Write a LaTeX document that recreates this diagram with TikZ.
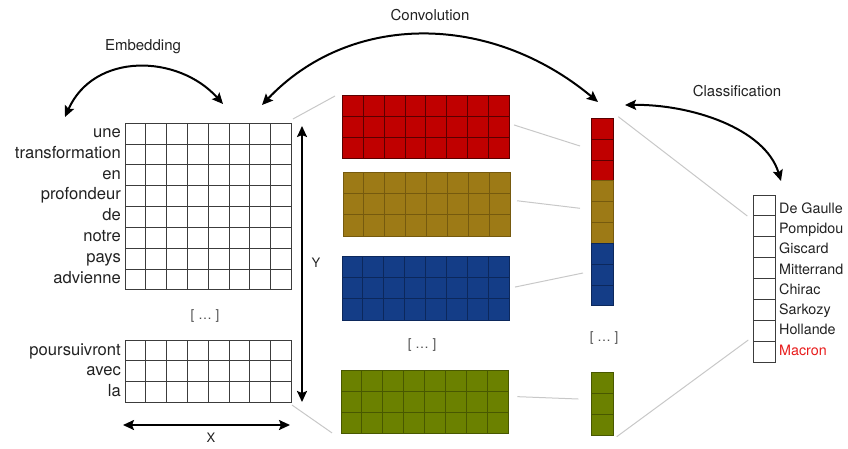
\documentclass[tikz,border=0pt]{standalone}
\usepackage{fontspec}
\setmainfont{TeX Gyre Heros}
\usetikzlibrary{arrows.meta}
\definecolor{cred}{RGB}{192,0,0}
\definecolor{credl}{RGB}{90,0,0}
\definecolor{cgold}{RGB}{157,122,22}
\definecolor{cgoldl}{RGB}{118,90,14}
\definecolor{cblue}{RGB}{20,61,135}
\definecolor{cbluel}{RGB}{12,40,92}
\definecolor{cgreen}{RGB}{107,129,0}
\definecolor{cgreenl}{RGB}{72,88,0}
\definecolor{gridl}{RGB}{60,60,60}
\definecolor{txt}{RGB}{34,34,34}
\definecolor{connl}{RGB}{200,200,200}
\definecolor{macred}{RGB}{232,28,28}
% #1 name, #2 x, #3 y, #4 cols, #5 rows, #6 cell w, #7 cell h, #8 fill, #9 line colour
\newcommand\blk[9]{%
  \begin{scope}[shift={(#2,#3)}]
    \node[anchor=north west, minimum width={#4*#6pt}, minimum height={#5*#7pt},
          inner sep=0pt, outer sep=0pt, fill=#8, draw=#9, line width=1pt] (#1) at (0,0) {};
    \pgfmathtruncatemacro\blkc{#4-1}%
    \pgfmathtruncatemacro\blkr{#5-1}%
    \ifnum\blkc>0 \foreach \i in {1,...,\blkc}{\draw[#9, line width=1pt] (\i*#6,0) -- (\i*#6,#5*#7);}\fi
    \ifnum\blkr>0 \foreach \j in {1,...,\blkr}{\draw[#9, line width=1pt] (0,\j*#7) -- (#4*#6,\j*#7);}\fi
  \end{scope}}
\tikzset{
  wordL/.style={anchor=base east, inner sep=0pt, text=txt, font=\fontsize{16.6}{18}\selectfont},
  wordR/.style={anchor=base west, inner sep=0pt, text=txt, font=\fontsize{14.3}{16}\selectfont},
  toplabel/.style={inner sep=0pt, text=txt, font=\fontsize{15}{17}\selectfont},
  dots/.style={inner sep=0pt, text=txt!80, font=\fontsize{13.5}{15}\selectfont},
  axlabel/.style={inner sep=0pt, text=txt, font=\fontsize{13}{15}\selectfont},
  bigarrow/.style={line width=2pt, {Stealth[length=11pt,width=10pt,inset=2pt]}-{Stealth[length=11pt,width=10pt,inset=2pt]}},
  conn/.style={connl, line width=1pt},
}
\begin{document}
\begin{tikzpicture}[x=1pt,y=-1pt]
\useasboundingbox (0,0) rectangle (848,448);
% embedding grids
\blk{emb}{125}{123.3}{8}{8}{20.83}{20.83}{white}{gridl}
\blk{embb}{125}{340}{8}{3}{20.83}{20.83}{white}{gridl}
% convolution blocks
\blk{cr}{342.3}{95}{8}{3}{20.9}{21.1}{cred}{credl}
\blk{cg}{343}{172.7}{8}{3}{20.9}{21.1}{cgold}{cgoldl}
\blk{cb}{342}{256.7}{8}{3}{20.9}{21.1}{cblue}{cbluel}
\blk{cgr}{341}{370}{8}{3}{20.9}{21.3}{cgreen}{cgreenl}
% pooled column
\blk{colr}{591.7}{118.3}{1}{3}{21.6}{20.86}{cred}{credl}
\blk{colo}{591.7}{180.9}{1}{3}{21.6}{20.86}{cgold}{cgoldl}
\blk{colb}{591.7}{243.4}{1}{3}{21.6}{20.86}{cblue}{cbluel}
\blk{colg}{591.7}{372}{1}{3}{21.6}{21}{cgreen}{cgreenl}
% classification
\blk{cls}{753.3}{195}{1}{8}{21.7}{20.9}{white}{gridl}
% words
\foreach \w [count=\k] in {une,transformation,en,profondeur,de,notre,pays,advienne}
  \node[wordL] (w\k) at (121,{137.5+20.8*(\k-1)}) {\w};
\foreach \w [count=\k] in {poursuivront,avec,la}
  \node[wordL] (v\k) at (121,{355+20.6*(\k-1)}) {\w};
\foreach \w [count=\k] in {De Gaulle,Pompidou,Giscard,Mitterrand,Chirac,Sarkozy,Hollande}
  \node[wordR] (p\k) at (779,{213.3+20.25*(\k-1)}) {\w};
\node[wordR, text=macred] (p8) at (779,355) {Macron};
% dots
\node[dots] (d1) at (205,316) {[ … ]};
\node[dots] (d2) at (422,345) {[ … ]};
\node[dots] (d3) at (604,338) {[ … ]};
% top labels
\node[toplabel] (lemb) at (143,46.5) {Embedding};
\node[toplabel] (lconv) at (430,15.5) {Convolution};
\node[toplabel] (lcls) at (737,91.5) {Classification};
% axis labels
\node[axlabel] (lx) at (211,438) {X};
\node[axlabel] (ly) at (316,263) {Y};
% axis arrows
\coordinate (xa) at (123,425); \coordinate (xb) at (290,425);
\coordinate (ya) at (302,126); \coordinate (yb) at (302,402);
\draw[bigarrow] (xa) -- (xb);
\draw[bigarrow] (ya) -- (yb);
% curved arrows
\coordinate (e1) at (65,117); \coordinate (e2) at (223,104);
\draw[bigarrow] (e1) .. controls (94,52) and (178,54) .. (e2);
\coordinate (c1) at (262,105); \coordinate (c2) at (598,102);
\draw[bigarrow] (c1) .. controls (350,12) and (490,12) .. (c2);
\coordinate (k1) at (625,105); \coordinate (k2) at (781,181);
\draw[bigarrow] (k1) .. controls (690,104) and (765,128) .. (k2);
% grey connectors
\draw[conn] ([shift={(1.3,-4.3)}]emb.north east) -- ([shift={(-7.3,1)}]cr.north west);
\draw[conn] ([shift={(0.3,2.5)}]embb.south east) -- ([shift={(-9,-1)}]cgr.south west);
\draw[conn] ([shift={(4.5,-1.7)}]cr.east) -- ([shift={(-11.7,-3.6)}]colr.west);
\draw[conn] ([shift={(6.8,-3.6)}]cg.east) -- ([shift={(-11.7,-3.9)}]colo.west);
\draw[conn] ([shift={(5.8,-1.3)}]cb.east) -- ([shift={(-8.7,-1.7)}]colb.west);
\draw[conn] ([shift={(9.1,-5.3)}]cgr.east) -- ([shift={(-13.4,-4.5)}]colg.west);
\draw[conn] ([shift={(5,-1.6)}]colr.north east) -- ([shift={(-6,21)}]cls.north west);
\draw[conn] ([shift={(3.4,1.7)}]colg.south east) -- ([shift={(-5,-22.2)}]cls.south west);
\end{tikzpicture}
\end{document}
